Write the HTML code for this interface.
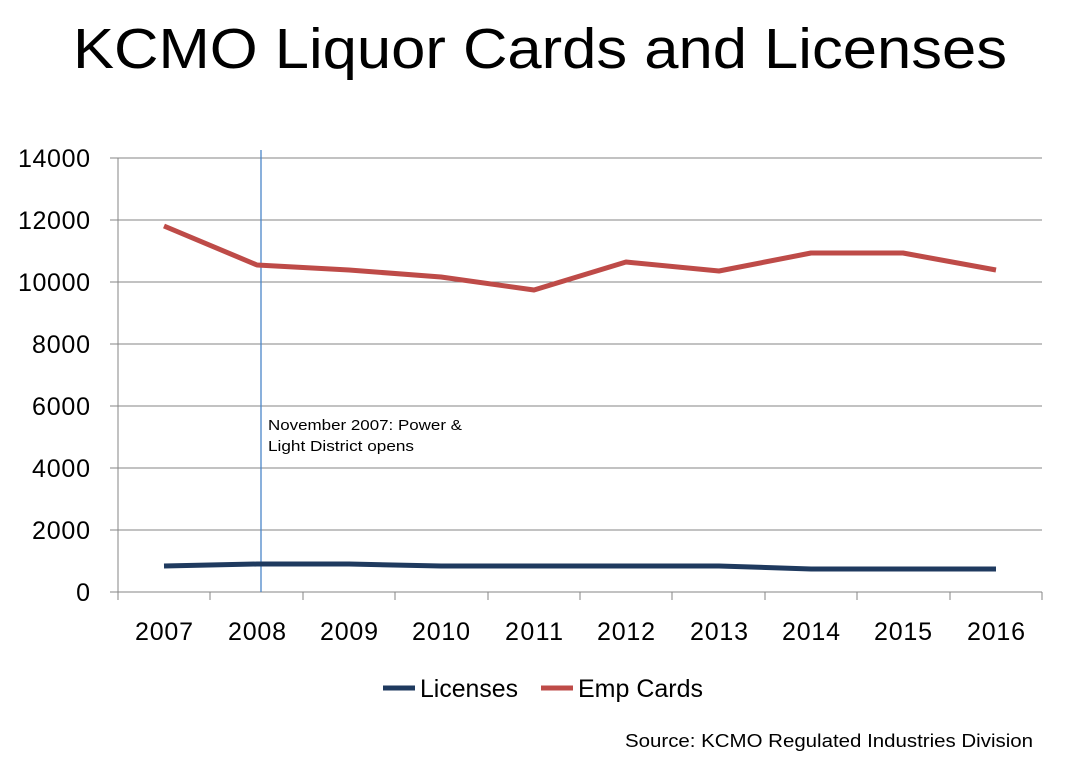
<!DOCTYPE html>
<html><head><style>body{margin:0;background:#fff}svg{display:block}</style></head><body>
<svg width="1077" height="770" xmlns="http://www.w3.org/2000/svg" font-family="'Liberation Sans',sans-serif">
<text x="540" y="68" font-size="57" text-anchor="middle" textLength="934" lengthAdjust="spacingAndGlyphs">KCMO Liquor Cards and Licenses</text>
<g stroke="#868686" stroke-width="1">
<line x1="110" y1="158" x2="1042" y2="158"/><line x1="110" y1="220" x2="1042" y2="220"/>
<line x1="110" y1="282" x2="1042" y2="282"/><line x1="110" y1="344" x2="1042" y2="344"/>
<line x1="110" y1="406" x2="1042" y2="406"/><line x1="110" y1="468" x2="1042" y2="468"/>
<line x1="110" y1="530" x2="1042" y2="530"/><line x1="110" y1="592" x2="1042" y2="592"/>
<line x1="118" y1="158" x2="118" y2="592"/>
<line x1="118" y1="592" x2="118" y2="600"/><line x1="210" y1="592" x2="210" y2="600"/><line x1="303" y1="592" x2="303" y2="600"/><line x1="395" y1="592" x2="395" y2="600"/><line x1="488" y1="592" x2="488" y2="600"/><line x1="580" y1="592" x2="580" y2="600"/><line x1="672" y1="592" x2="672" y2="600"/><line x1="765" y1="592" x2="765" y2="600"/><line x1="857" y1="592" x2="857" y2="600"/><line x1="950" y1="592" x2="950" y2="600"/><line x1="1042" y1="592" x2="1042" y2="600"/>
</g>
<g font-size="25" text-anchor="end" lengthAdjust="spacingAndGlyphs">
<text x="90" y="167" textLength="72">14000</text><text x="90" y="229" textLength="72">12000</text><text x="90" y="291" textLength="72">10000</text><text x="90" y="353" textLength="58">8000</text><text x="90" y="415" textLength="58">6000</text><text x="90" y="477" textLength="58">4000</text><text x="90" y="539" textLength="58">2000</text><text x="90" y="601" textLength="14">0</text>
</g>
<g font-size="25" text-anchor="middle" lengthAdjust="spacingAndGlyphs">
<text x="164" y="640" textLength="58">2007</text><text x="257" y="640" textLength="58">2008</text><text x="349" y="640" textLength="58">2009</text><text x="441" y="640" textLength="58">2010</text><text x="534" y="640" textLength="58">2011</text><text x="626" y="640" textLength="58">2012</text><text x="719" y="640" textLength="58">2013</text><text x="811" y="640" textLength="58">2014</text><text x="903" y="640" textLength="58">2015</text><text x="996" y="640" textLength="58">2016</text>
</g>
<line x1="261" y1="150" x2="261" y2="592" stroke="#4a86c8" stroke-width="1.3"/>
<text x="268" y="430" font-size="15" textLength="194" lengthAdjust="spacingAndGlyphs">November 2007: Power &amp;</text>
<text x="268" y="451" font-size="15" textLength="146" lengthAdjust="spacingAndGlyphs">Light District opens</text>
<polyline fill="none" stroke="#be4b48" stroke-width="5" stroke-linejoin="round" points="164,226 257,265 349,270 441,277 534,290 626,262 719,271 811,253 903,253 996,270"/>
<polyline fill="none" stroke="#1f3a5f" stroke-width="5" stroke-linejoin="round" points="164,566 257,564 349,564 441,566 534,566 626,566 719,566 811,569 903,569 996,569"/>
<line x1="383" y1="688" x2="415" y2="688" stroke="#1f3a5f" stroke-width="5"/>
<text x="420" y="697" font-size="25" textLength="98" lengthAdjust="spacingAndGlyphs">Licenses</text>
<line x1="541" y1="688" x2="573" y2="688" stroke="#be4b48" stroke-width="5"/>
<text x="578" y="697" font-size="25" textLength="125" lengthAdjust="spacingAndGlyphs">Emp Cards</text>
<text x="1033" y="747" font-size="18" text-anchor="end" textLength="408" lengthAdjust="spacingAndGlyphs">Source: KCMO Regulated Industries Division</text>
</svg>
</body></html>
